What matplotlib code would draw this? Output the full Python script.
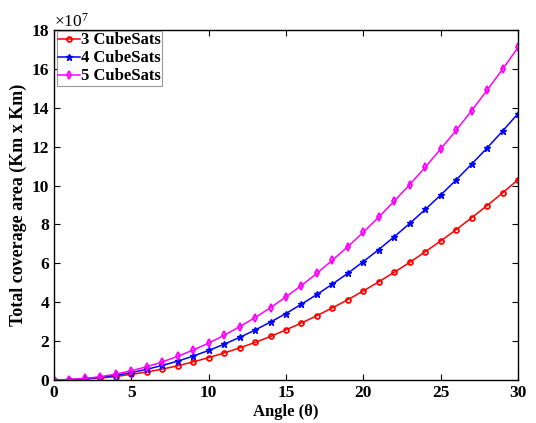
import matplotlib
matplotlib.use("Agg")
import matplotlib.pyplot as plt
import numpy as np

# angle in degrees, coverage in units of 1e7 km^2
angle = list(range(0, 31))
cov3 = [0, 0.01, 0.05, 0.10, 0.18, 0.29, 0.41, 0.56, 0.73, 0.93, 1.15, 1.39, 1.65, 1.93,
        2.24, 2.58, 2.93, 3.31, 3.71, 4.13, 4.58, 5.05, 5.54, 6.05, 6.59, 7.15, 7.73,
        8.34, 8.97, 9.62, 10.30]
cov4 = [0, 0.02, 0.06, 0.14, 0.24, 0.38, 0.55, 0.75, 0.97, 1.23, 1.52, 1.84, 2.19, 2.57,
        2.98, 3.42, 3.90, 4.40, 4.93, 5.49, 6.09, 6.71, 7.37, 8.05, 8.77, 9.51, 10.29,
        11.10, 11.93, 12.80, 13.70]
cov5 = [0, 0.02, 0.08, 0.17, 0.30, 0.48, 0.68, 0.93, 1.22, 1.54, 1.90, 2.30, 2.74, 3.21,
        3.72, 4.28, 4.86, 5.49, 6.16, 6.86, 7.60, 8.38, 9.20, 10.05, 10.94, 11.88, 12.84,
        13.85, 14.90, 15.98, 17.10]
labels = ["3 CubeSats", "4 CubeSats", "5 CubeSats"]

plt.rcParams["font.family"] = ["Liberation Serif", "DejaVu Serif"]
plt.rcParams["mathtext.fontset"] = "custom"
plt.rcParams["mathtext.rm"] = "Liberation Serif"

fig = plt.figure(figsize=(5.36, 4.23), dpi=100)
ax = fig.add_axes([54 / 536, 1 - 380 / 423, 464 / 536, 350 / 423])

ax.plot(angle, cov3, color="red", marker="o", ms=3.5, mfc="none", mew=1.3, lw=1.1, label=labels[0])
ax.plot(angle, cov4, color="blue", marker="*", ms=5, lw=1.1, label=labels[1])
ax.plot(angle, cov5, color="magenta", marker="d", ms=4, mfc="none", mew=1.3, lw=1.1, label=labels[2])

ax.set_xlim(0, 30)
ax.set_ylim(0, 18)
ax.set_xticks(np.arange(0, 31, 5))
ax.set_yticks(np.arange(0, 19, 2))
ax.tick_params(direction="in", top=True, right=True, labelsize=12.5, length=4)
for lab in ax.get_xticklabels() + ax.get_yticklabels():
    lab.set_fontweight("bold")
for s in ax.spines.values():
    s.set_linewidth(1.0)

ax.set_xlabel("Angle (θ)", fontsize=12, fontweight="bold", labelpad=2)
ax.set_ylabel("Total coverage area (Km x Km)", fontsize=13, fontweight="bold", labelpad=3)
ax.text(0.0, 1.009, r"$\times\mathregular{10^7}$", transform=ax.transAxes, fontsize=12.5,
        ha="left", va="baseline")

leg = ax.legend(loc="upper left", bbox_to_anchor=(0.004, 1.0), handlelength=1.3,
                handletextpad=0.05, borderpad=0.1, labelspacing=0.12, borderaxespad=0.05,
                fancybox=False, framealpha=1, prop={"weight": "bold", "size": 12})
leg.get_frame().set_edgecolor("#999999")
leg.get_frame().set_linewidth(0.8)

fig.savefig("out.png", dpi=100)
